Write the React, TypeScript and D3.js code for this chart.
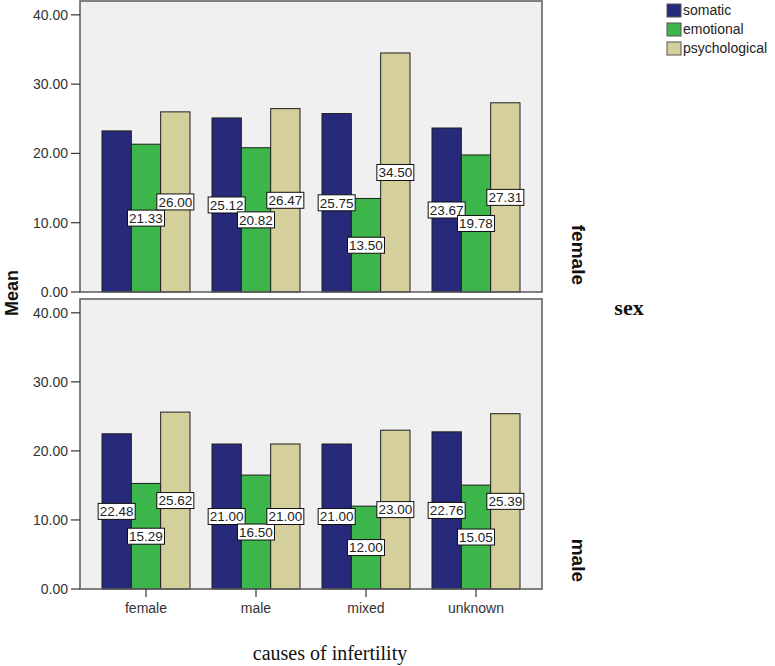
import React from "react";
import * as d3 from "d3";

const categories = ["female", "male", "mixed", "unknown"];
const seriesNames = ["somatic", "emotional", "psychological"];
const panelNames = ["female", "male"];
const yTicks = [0, 10, 20, 30, 40];

const femaleSomatic = [23.25, 25.12, 25.75, 23.67];
const femaleEmotional = [21.33, 20.82, 13.5, 19.78];
const femalePsychological = [26.0, 26.47, 34.5, 27.31];
const maleSomatic = [22.48, 21.0, 21.0, 22.76];
const maleEmotional = [15.29, 16.5, 12.0, 15.05];
const malePsychological = [25.62, 21.0, 23.0, 25.39];
// labels hidden in the original (panel, category, series)
const hiddenLabels = [["female", "female", "somatic"]];

const seriesColors = ["#27297a", "#3cb64b", "#d5cf9b"];

const panelData = [
  [femaleSomatic, femaleEmotional, femalePsychological],
  [maleSomatic, maleEmotional, malePsychological],
];

const W = 775;
const H = 666;
const plotLeft = 80;
const plotRight = 542;
const panelRanges: [number, number][] = [
  [292, 1],
  [589, 299],
];

const FONT = "Liberation Sans, Arial, sans-serif";
const SERIF = "Liberation Serif, Times New Roman, serif";

export default function App() {
  const x = d3
    .scaleBand<string>()
    .domain(categories)
    .range([plotLeft, plotRight])
    .paddingInner(0.2)
    .paddingOuter(0.2);
  const xs = d3.scaleBand<string>().domain(seriesNames).range([0, x.bandwidth()]).padding(0);
  const color = d3.scaleOrdinal<string, string>().domain(seriesNames).range(seriesColors);
  const fmt = d3.format(".2f");

  const isHidden = (p: string, c: string, s: string) =>
    hiddenLabels.some((h) => h[0] === p && h[1] === c && h[2] === s);

  return (
    <svg
      width={W}
      height={H}
      style={{ position: "absolute", left: 0, top: 0, background: "#fff" }}
    >
      {panelNames.map((pName, pi) => {
        const y = d3.scaleLinear().domain([0, 42]).range(panelRanges[pi]);
        const [yb, yt] = panelRanges[pi];
        const vals = panelData[pi];
        return (
          <g key={pName}>
            <rect
              x={plotLeft}
              y={yt}
              width={plotRight - plotLeft}
              height={yb - yt}
              fill="#f0f0f0"
            />
            {/* bars */}
            {seriesNames.map((s, si) =>
              categories.map((c, ci) => (
                <rect
                  key={s + c}
                  x={(x(c) as number) + (xs(s) as number)}
                  y={y(vals[si][ci])}
                  width={xs.bandwidth()}
                  height={y(0) - y(vals[si][ci])}
                  fill={color(s)}
                  stroke="#1e1e1e"
                  strokeWidth={1}
                />
              ))
            )}
            {/* frame */}
            <rect
              x={plotLeft}
              y={yt}
              width={plotRight - plotLeft}
              height={yb - yt}
              fill="none"
              stroke="#5a5a5a"
              strokeWidth={1.5}
            />
            {/* y axis */}
            {yTicks.map((t) => (
              <g key={t}>
                <line x1={71} x2={plotLeft} y1={y(t)} y2={y(t)} stroke="#333" strokeWidth={1.2} />
                <text
                  x={68}
                  y={y(t)}
                  dy="0.35em"
                  textAnchor="end"
                  fontFamily={FONT}
                  fontSize={14}
                  fill="#333"
                >
                  {fmt(t)}
                </text>
              </g>
            ))}
            {/* value labels */}
            {seriesNames.map((s, si) =>
              categories.map((c, ci) => {
                if (isHidden(pName, c, s)) return null;
                const v = vals[si][ci];
                const cx = (x(c) as number) + (xs(s) as number) + xs.bandwidth() / 2;
                const cy = y(v / 2);
                const bw = 37;
                const bh = 16;
                return (
                  <g key={"l" + s + c}>
                    <rect
                      x={cx - bw / 2}
                      y={cy - bh / 2}
                      width={bw}
                      height={bh}
                      fill="#fff"
                      stroke="#111"
                      strokeWidth={1}
                    />
                    <text
                      x={cx}
                      y={cy}
                      dy="0.36em"
                      textAnchor="middle"
                      fontFamily={FONT}
                      fontSize={13.5}
                      fill="#222"
                    >
                      {fmt(v)}
                    </text>
                  </g>
                );
              })
            )}
            {/* panel label */}
            <text
              transform={`translate(572, ${yb - 7}) rotate(90)`}
              textAnchor="end"
              fontFamily={FONT}
              fontWeight="bold"
              fontSize={19}
              fill="#111"
            >
              {pName}
            </text>
          </g>
        );
      })}
      {/* x axis ticks */}
      {categories.map((c) => {
        const cx = (x(c) as number) + x.bandwidth() / 2;
        return (
          <g key={"x" + c}>
            <line x1={cx} x2={cx} y1={589} y2={597} stroke="#333" strokeWidth={1.2} />
            <text
              x={cx}
              y={613}
              textAnchor="middle"
              fontFamily={FONT}
              fontSize={14}
              fill="#333"
            >
              {c}
            </text>
          </g>
        );
      })}
      <text
        x={330}
        y={660}
        textAnchor="middle"
        fontFamily={SERIF}
        fontSize={20}
        fill="#111"
      >
        causes of infertility
      </text>
      <text
        transform="translate(18, 293) rotate(-90)"
        textAnchor="middle"
        fontFamily={FONT}
        fontWeight="bold"
        fontSize={18}
        fill="#111"
      >
        Mean
      </text>
      <text
        x={629}
        y={315}
        textAnchor="middle"
        fontFamily={SERIF}
        fontWeight="bold"
        fontSize={22}
        fill="#111"
      >
        sex
      </text>
      {/* legend */}
      {seriesNames.map((s, i) => (
        <g key={"lg" + s} transform={`translate(667, ${4 + i * 19})`}>
          <rect x={0} y={0} width={14} height={13} fill={color(s)} stroke="#555" strokeWidth={1} />
          <text x={16} y={11} fontFamily={FONT} fontSize={14} fill="#222">
            {s}
          </text>
        </g>
      ))}
    </svg>
  );
}
